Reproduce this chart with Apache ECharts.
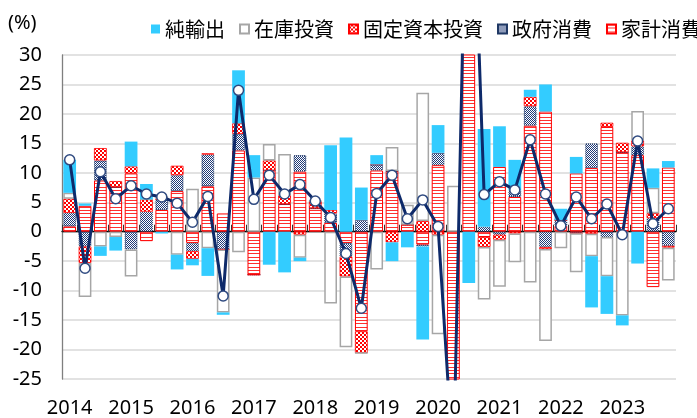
<!DOCTYPE html>
<html>
<head>
<meta charset="utf-8">
<script src="https://cdn.jsdelivr.net/npm/echarts@6/dist/echarts.min.js"></script>
<style>
html,body{margin:0;padding:0;background:#fff;}
#c{width:697px;height:418px;}
</style>
</head>
<body>
<div id="c"></div>
<script>
// Quarterly categories 2014Q1 .. 2023Q4
const years = ['2014','2015','2016','2017','2018','2019','2020','2021','2022','2023'];
const categories = [];
const tickLabels = [];
years.forEach(y => { for (let q = 1; q <= 4; q++) { categories.push(y + 'Q' + q); tickLabels.push(q === 1 ? y : ''); } });

// Contributions (percentage points)
const household = [0.9,4.4,8.7,7.6,9.9,-1.6,3.7,6.9,-1.9,7.7,3.1,13.8,-7.3,10.4,4.7,10.2,4.0,1.5,-1.9,-16.9,10.4,10.3,1.2,-2.2,11.3,-32,45,-0.9,11.0,5.9,18.0,20.4,1.0,9.9,10.8,17.8,13.5,13.0,-9.4,10.9];
const government = [2.3,-2.5,3.4,0,-3.0,3.4,1.8,2.7,-1.4,5.4,-3.0,2.8,0,0,0,2.8,0,1.6,-2.3,2.0,1.0,0,0,-0.3,2.1,0,0,0.85,-0.5,1.1,3.3,-2.6,1.0,-0.25,4.2,-0.9,0,1.5,2.3,-2.4];
const fixedInvest = [2.4,-2.8,2.1,1.0,1.2,2.1,0,1.6,-1.3,0.2,0,1.8,0,1.7,1.5,-0.5,1.2,0.6,-3.4,-3.7,0,-1.8,0,1.8,-0.5,0,0,-1.7,-0.85,-0.3,1.6,-0.35,0,0,-0.35,0.7,1.6,1.0,0.85,-0.3];
const inventory = [1.0,-5.8,-2.5,-0.9,-4.6,0,0.5,-3.9,7.3,-2.8,-10.7,-3.5,9.2,2.8,7.0,-3.9,0,-12.2,-12.0,0,-6.4,4.1,3.4,21.8,-16.9,7.8,0,-8.9,-8.0,-4.9,-8.6,-15.6,-2.8,-6.65,-3.8,-6.65,-14.2,5.0,4.3,-5.6];
const netExports = [5.6,0.4,-1.6,-2.3,4.2,2.6,-0.3,-2.5,-1.1,-4.7,-0.4,9.0,3.8,-5.6,-6.9,-0.6,0,11.0,16.0,5.5,1.6,-3.2,-2.65,-15.8,4.7,0,-8.7,16.6,6.9,5.2,1.2,4.6,1.9,2.8,-8.7,-6.4,-1.7,-5.4,3.3,1.1];
const gdpTotal = [12.2,-6.2,10.2,5.6,7.8,6.4,5.9,4.85,1.6,6.0,-10.9,24.0,5.5,9.6,6.4,8.0,5.2,2.4,-3.7,-13.0,6.5,9.6,2.2,5.4,0.9,-40,80,6.3,8.5,7.1,15.6,6.4,1.0,5.9,2.2,4.7,-0.5,15.4,1.35,3.9];
const yTicks = {min: -25, max: 30, interval: 5};
const seriesNames = ['純輸出','在庫投資','固定資本投資','政府消費','家計消費'];

function makePattern(w, h, draw) {
  const c = document.createElement('canvas');
  c.width = w; c.height = h;
  const ctx = c.getContext('2d');
  draw(ctx);
  return {image: c, repeat: 'repeat'};
}
const stripePattern = makePattern(4, 10, ctx => {
  ctx.fillStyle = '#ffffff'; ctx.fillRect(0,0,4,10);
  ctx.fillStyle = '#ff3030';
  [0,3,7].forEach(y => ctx.fillRect(0,y,4,1));
});
const checkerRed = makePattern(4, 4, ctx => {
  ctx.fillStyle = '#ff0000'; ctx.fillRect(0,0,4,4);
  ctx.fillStyle = '#ffffff'; ctx.fillRect(0,0,2,2); ctx.fillRect(2,2,2,2);
});
const checkerNavy = makePattern(2, 2, ctx => {
  ctx.fillStyle = '#ffffff'; ctx.fillRect(0,0,2,2);
  ctx.fillStyle = '#1f3a78'; ctx.fillRect(0,0,1,1); ctx.fillRect(1,1,1,1);
});

const numFont = 'Noto Sans';
const cjkFont = 'Noto Sans CJK JP';

const chart = echarts.init(document.getElementById('c'), null, {renderer: 'canvas'});
const barCommon = {type: 'bar', stack: 'gdp', xAxisIndex: 0, barCategoryGap: '17%', clip: true};

chart.setOption({
  animation: false,
  backgroundColor: '#ffffff',
  grid: {left: 62, right: 21, top: 55, bottom: 38, containLabel: false},
  graphic: [{type: 'text', left: 8, top: 13, style: {text: '(%)', font: '20px "' + numFont + '"', fill: '#000'}}],
  legend: {
    data: seriesNames,
    left: 146, top: 14, width: 1200,
    orient: 'horizontal',
    itemWidth: 9, itemHeight: 9, itemGap: 14,
    icon: 'rect',
    textStyle: {fontFamily: cjkFont, fontSize: 20, color: '#000'}
  },
  xAxis: [
    {
      type: 'category', data: categories, position: 'bottom',
      axisLine: {onZero: true, lineStyle: {color: '#000', width: 1.3}},
      axisTick: {show: true, inside: true, length: 7, interval: 0, alignWithLabel: false, lineStyle: {color: '#333'}},
      axisLabel: {show: false}, splitLine: {show: false}
    },
    {
      type: 'category', data: tickLabels, position: 'bottom',
      axisLine: {show: false, onZero: false}, axisTick: {show: false},
      axisLabel: {show: true, interval: 0, margin: 19, fontFamily: numFont, fontSize: 20, color: '#000'},
      splitLine: {show: false}
    }
  ],
  yAxis: {
    type: 'value', min: yTicks.min, max: yTicks.max, interval: yTicks.interval,
    axisLine: {show: true, lineStyle: {color: '#7f7f7f', width: 1.3}},
    axisTick: {show: false},
    axisLabel: {margin: 20, fontFamily: numFont, fontSize: 20, color: '#000'},
    splitLine: {lineStyle: {color: '#d9d9d9', width: 1.5}}
  },
  series: [
    Object.assign({}, barCommon, {name: '家計消費', data: household,
      itemStyle: {color: stripePattern, borderColor: '#ff0000', borderWidth: 1}}),
    Object.assign({}, barCommon, {name: '政府消費', data: government,
      itemStyle: {color: checkerNavy, borderColor: '#1f3864', borderWidth: 1, borderType: 'dotted'}}),
    Object.assign({}, barCommon, {name: '固定資本投資', data: fixedInvest,
      itemStyle: {color: checkerRed, borderColor: '#ff0000', borderWidth: 0.8}}),
    Object.assign({}, barCommon, {name: '在庫投資', data: inventory,
      itemStyle: {color: '#ffffff', borderColor: '#a6a6a6', borderWidth: 1.5}}),
    Object.assign({}, barCommon, {name: '純輸出', data: netExports,
      itemStyle: {color: '#33ccff', borderColor: '#33ccff', borderWidth: 0}}),
    {
      type: 'line', name: 'GDP', data: gdpTotal, xAxisIndex: 0, z: 10, clip: true,
      symbol: 'circle', symbolSize: 10, showAllSymbol: true,
      lineStyle: {color: '#0e2a6a', width: 3},
      itemStyle: {color: '#ffffff', borderColor: '#2f4a80', borderWidth: 1.5}
    }
  ]
});
</script>
</body>
</html>
